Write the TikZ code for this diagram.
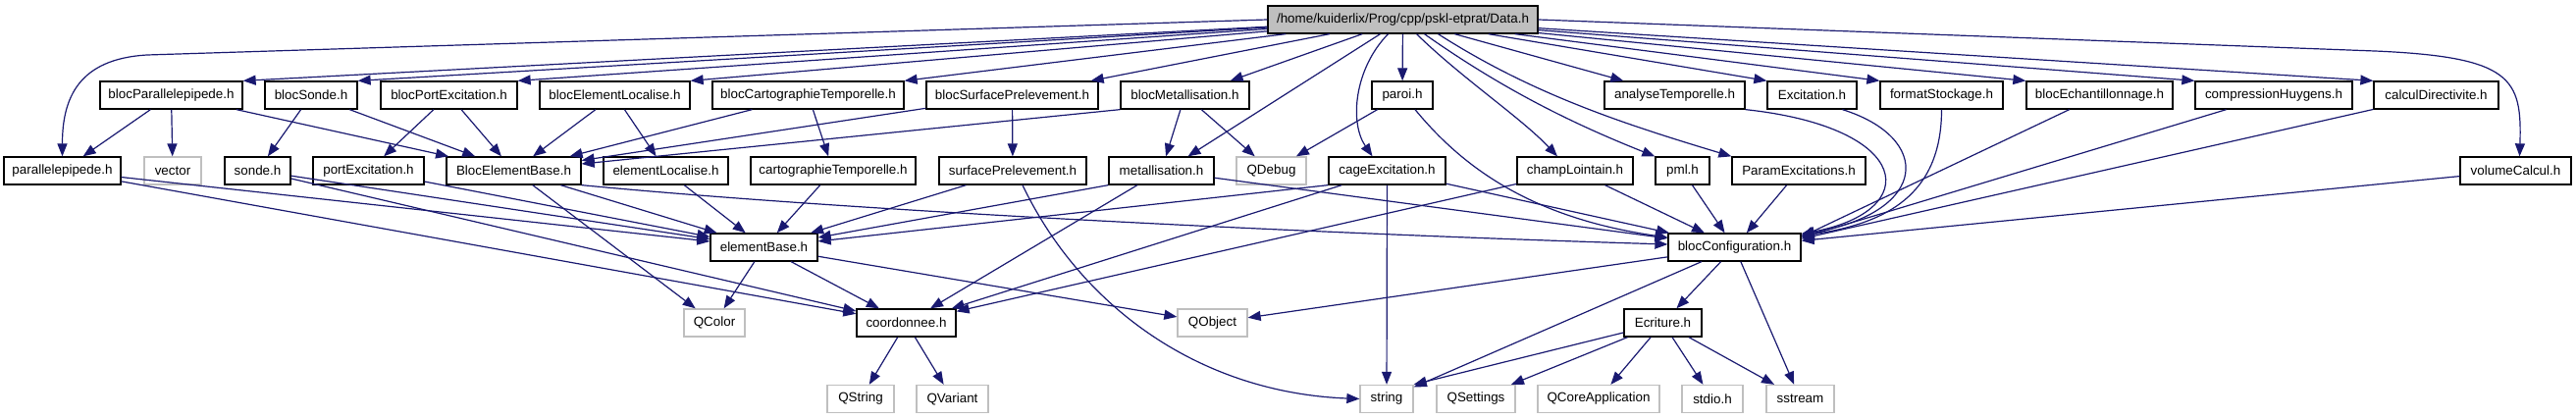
\documentclass[tikz,border=0pt]{standalone}
\usepackage{fontspec}
\setmainfont{Liberation Sans}
\usetikzlibrary{arrows.meta,calc}
\definecolor{mblue}{RGB}{25,25,112}
\definecolor{lgray}{RGB}{191,191,191}
\begin{document}
\begin{tikzpicture}[x=1pt,y=-1pt,
  box/.style={draw=black,line width=1.3pt,fill=white,minimum height=28pt,inner sep=0pt,
              font=\fontsize{13.4}{15}\selectfont,text=black},
  sys/.style={box,draw=lgray},
  root/.style={box,fill=lgray},
  ed/.style={draw=mblue,line width=1.2pt,-{Triangle[length=13pt,width=10pt]}},
]
\useasboundingbox (0,0) rectangle (2625,427);
% row 0
\node[root,minimum width=275pt] (Data) at (1429.5,20) {/home/kuiderlix/Prog/cpp/pskl-etprat/Data.h};
% row 1
\node[box,minimum width=145pt] (bPP) at (174.5,97) {blocParallelepipede.h};
\node[box,minimum width=94pt] (bSonde) at (317,97) {blocSonde.h};
\node[box,minimum width=139pt] (bPort) at (457.5,97) {blocPortExcitation.h};
\node[box,minimum width=153pt] (bEL) at (626.5,97) {blocElementLocalise.h};
\node[box,minimum width=195pt] (bCT) at (823.5,97) {blocCartographieTemporelle.h};
\node[box,minimum width=175pt] (bSP) at (1031.5,97) {blocSurfacePrelevement.h};
\node[box,minimum width=131pt] (bMet) at (1207.5,97) {blocMetallisation.h};
\node[box,minimum width=62pt] (paroi) at (1429,97) {paroi.h};
\node[box,minimum width=143pt] (anaT) at (1706.5,97) {analyseTemporelle.h};
\node[box,minimum width=91pt] (Exc) at (1846.5,97) {Excitation.h};
\node[box,minimum width=125pt] (fmt) at (1978.5,97) {formatStockage.h};
\node[box,minimum width=149pt] (bEch) at (2139.5,97) {blocEchantillonnage.h};
\node[box,minimum width=160pt] (cH) at (2317,97) {compressionHuygens.h};
\node[box,minimum width=127pt] (cD) at (2482.5,97) {calculDirectivite.h};
% row 2
\node[box,minimum width=119pt] (pp) at (63.5,174) {parallelepipede.h};
\node[sys,minimum width=58pt] (vector) at (176,174) {vector};
\node[box,minimum width=67pt] (sonde) at (262.5,174) {sonde.h};
\node[box,minimum width=113pt] (portE) at (375.5,174) {portExcitation.h};
\node[box,minimum width=137pt] (BEB) at (523.5,174) {BlocElementBase.h};
\node[box,minimum width=127pt] (eL) at (678.5,174) {elementLocalise.h};
\node[box,minimum width=168pt] (cT) at (849,174) {cartographieTemporelle.h};
\node[box,minimum width=150pt] (sP) at (1032,174) {surfacePrelevement.h};
\node[box,minimum width=107pt] (met) at (1183.5,174) {metallisation.h};
\node[sys,minimum width=71pt] (QDebug) at (1295.5,174) {QDebug};
\node[box,minimum width=119pt] (cage) at (1413.5,174) {cageExcitation.h};
\node[box,minimum width=118pt] (champ) at (1605,174) {champLointain.h};
\node[box,minimum width=55pt] (pml) at (1714.5,174) {pml.h};
\node[box,minimum width=136pt] (PE) at (1833,174) {ParamExcitations.h};
\node[box,minimum width=113pt] (vol) at (2563.5,174) {volumeCalcul.h};
% row 3
\node[box,minimum width=109pt] (eB) at (778.5,252) {elementBase.h};
\node[box,minimum width=135pt] (bC) at (1767.5,252) {blocConfiguration.h};
% row 4
\node[sys,minimum width=62pt] (QColor) at (728,329) {QColor};
\node[box,minimum width=101pt] (coord) at (923.5,329) {coordonnee.h};
\node[sys,minimum width=71pt] (QObject) at (1235.5,329) {QObject};
\node[box,minimum width=79pt] (Ecr) at (1694.5,329) {Ecriture.h};
% row 5
\node[sys,minimum width=68pt] (QString) at (877,406.5) {QString};
\node[sys,minimum width=73pt] (QVariant) at (970.5,406.5) {QVariant};
\node[sys,minimum width=54pt] (string) at (1413,406.5) {string};
\node[sys,minimum width=80pt] (QSettings) at (1504,406.5) {QSettings};
\node[sys,minimum width=124pt] (QCore) at (1629,406.5) {QCoreApplication};
\node[sys,minimum width=62pt] (stdio) at (1745,406.5) {stdio.h};
\node[sys,minimum width=69pt] (sstream) at (1834.5,406.5) {sstream};

% edges from Data.h
\draw[ed] (Data.west) -- (150,56) .. controls (80,60) and (63.5,100) .. (pp.north);
\draw[ed] (Data) -- (bPP.north east);
\draw[ed] (Data) -- (bSonde.north east);
\draw[ed] (Data) -- (bPort.north east);
\draw[ed] (Data) -- (bEL.north east);
\draw[ed] (Data) -- (bCT.north east);
\draw[ed] (Data) -- ($(bSP.north east)+(-8,0)$);
\draw[ed] (Data) -- ($(bMet.north east)+(-20,0)$);
\draw[ed] (Data) -- ($(met.north)+(27,0)$);
\draw[ed] ($(Data.south)+(-15,0)$) .. controls (1380,70) and (1375,125) .. ($(cage.north)+(-15,0)$);
\draw[ed] (Data) -- (paroi);
\draw[ed] ($(Data.south)+(14,0)$) .. controls (1490,80) and (1550,120) .. ($(champ.north)+(-18,0)$);
\draw[ed] ($(Data.south)+(22,0)$) .. controls (1530,90) and (1600,125) .. (pml.north west);
\draw[ed] ($(Data.south)+(36,0)$) .. controls (1560,95) and (1650,125) .. (PE.north west);
\draw[ed] (Data) -- ($(anaT.north west)+(20,0)$);
\draw[ed] (Data) -- (Exc.north west);
\draw[ed] (Data) -- (fmt.north west);
\draw[ed] (Data) -- (bEch.north west);
\draw[ed] (Data) -- (cH.north west);
\draw[ed] (Data) -- (cD.north west);
\draw[ed] (Data.east) -- (2420,52) .. controls (2560,58) and (2570,80) .. ($(vol.north)+(4,0)$);

% row 1 edges
\draw[ed] (bPP) -- (pp);
\draw[ed] (bPP) -- (vector);
\draw[ed] (bPP) -- (BEB);
\draw[ed] (bSonde) -- (sonde);
\draw[ed] (bSonde) -- (BEB);
\draw[ed] (bPort) -- (portE);
\draw[ed] (bPort) -- (BEB);
\draw[ed] (bEL) -- (BEB);
\draw[ed] (bEL) -- (eL);
\draw[ed] (bCT) -- (BEB);
\draw[ed] (bCT) -- (cT);
\draw[ed] (bSP) -- (BEB);
\draw[ed] (bSP) -- (sP);
\draw[ed] (bMet.south west) -- (BEB);
\draw[ed] (bMet) -- (met);
\draw[ed] (bMet) -- (QDebug);
\draw[ed] (paroi) -- (QDebug);
\draw[ed] ($(paroi.south)+(13,0)$) .. controls (1490,170) and (1560,222) .. ($(bC.west)+(0,-10)$);
\draw[ed] (anaT.south east) .. controls (1950,130) and (1960,215) .. ($(bC.north east)+(0,1)$);
\draw[ed] ($(Exc.south)+(31,0)$) .. controls (1968,140) and (1968,215) .. ($(bC.north east)+(0,2)$);
\draw[ed] (fmt.south) .. controls (1978.5,200) and (1920,228) .. ($(bC.north east)+(0,3)$);
\draw[ed] (bEch) -- ($(bC.north east)+(0,4)$);
\draw[ed] (cH) -- ($(bC.north east)+(0,5)$);
\draw[ed] (cD) -- ($(bC.north east)+(0,6)$);
\draw[ed] (vol) -- ($(bC.north east)+(0,8)$);

% row 2 edges
\draw[ed] (pp) -- (eB);
\draw[ed] (pp) -- (coord);
\draw[ed] (sonde) -- (eB);
\draw[ed] (sonde) -- (coord);
\draw[ed] (portE) -- (eB);
\draw[ed] (BEB) -- (eB);
\draw[ed] (BEB) -- (QColor);
\draw[ed] (BEB.south east) .. controls (900,218) and (1400,240) .. ($(bC.west)+(0,-3)$);
\draw[ed] (eL) -- (eB);
\draw[ed] (cT) -- (eB);
\draw[ed] (sP) -- (eB);
\draw[ed] ($(sP.south)+(10,0)$) .. controls (1100,310) and (1220,400) .. (string.west);
\draw[ed] (met.south west) -- (eB);
\draw[ed] (met) -- (coord);
\draw[ed] (met) -- (bC);
\draw[ed] (cage.south west) -- (eB);
\draw[ed] (cage) -- (coord);
\draw[ed] (cage) -- (string);
\draw[ed] (cage) -- (bC);
\draw[ed] (champ) -- (coord);
\draw[ed] (champ) -- (bC);
\draw[ed] (pml) -- (bC);
\draw[ed] (PE) -- (bC);

% row 3+ edges
\draw[ed] (eB) -- (QColor);
\draw[ed] (eB) -- (coord);
\draw[ed] (eB) -- (QObject);
\draw[ed] (bC) -- (QObject);
\draw[ed] (bC) -- (Ecr);
\draw[ed] (bC) -- (string);
\draw[ed] (bC) -- (sstream);
\draw[ed] (coord) -- (QString);
\draw[ed] (coord) -- (QVariant);
\draw[ed] (Ecr) -- (string.north east);
\draw[ed] (Ecr) -- (QSettings);
\draw[ed] (Ecr) -- (QCore);
\draw[ed] (Ecr) -- (stdio);
\draw[ed] (Ecr) -- (sstream);
\end{tikzpicture}
\end{document}
